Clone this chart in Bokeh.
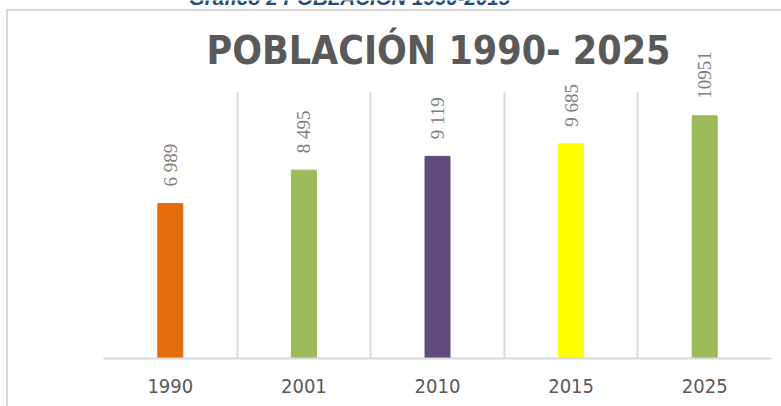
from bokeh.plotting import figure
from bokeh.models import ColumnDataSource, LabelSet, Label, FixedTicker, Range1d
from bokeh.embed import file_html
from bokeh.resources import INLINE

# ---- data ----
years = ["1990", "2001", "2010", "2015", "2025"]
population = [6989, 8495, 9119, 9685, 10951]
value_labels = ["6 989", "8 495", "9 119", "9 685", "10951"]
bar_colors = ["#E46C0A", "#9BBB59", "#604A7B", "#FFFF00", "#9BBB59"]
title_text = "POBLACIÓN 1990- 2025"
caption_text = "Gráfico 2 POBLACIÓN 1990-2015"

# layout (pixels)
W, H = 781, 406
FL, FR, FT, FB = 103, 771, 0, 358   # frame edges
GRID_TOP = 92                       # y pixel where the value 12000 lies
y_max = 12000
n = len(years)
y_end = y_max * (FB - FT) / (FB - GRID_TOP)

x_pos = [i + 0.5 for i in range(n)]
src = ColumnDataSource(dict(x=x_pos, top=population, color=bar_colors,
                            lab=value_labels))

p = figure(width=W, height=H, output_backend="svg", toolbar_location=None,
           x_range=Range1d(0, n), y_range=Range1d(0, y_end),
           min_border_left=FL, min_border_right=W - FR,
           min_border_top=FT, min_border_bottom=H - FB)
# outer chart border (left and top edges), drawn behind a transparent canvas
p.styles = {"background": "linear-gradient(#D9D9D9, #D9D9D9) 6px 9px / 2px 397px no-repeat, "
                          "linear-gradient(#D9D9D9, #D9D9D9) 6px 9px / 775px 2px no-repeat, #FFFFFF"}
p.outline_line_color = None
p.background_fill_color = None
p.border_fill_color = None

p.vbar(x="x", top="top", bottom=0, width=0.187, color="color", source=src)

# axes
p.yaxis.visible = False
p.ygrid.visible = False
xa = p.xaxis[0]
xa.ticker = FixedTicker(ticks=x_pos)
xa.major_label_overrides = {x: y for x, y in zip(x_pos, years)}
xa.major_tick_line_color = None
xa.minor_tick_line_color = None
xa.axis_line_color = "#D9D9D9"
xa.axis_line_width = 2
xa.major_label_text_font = "DejaVu Sans Condensed"
xa.major_label_text_font_size = "20px"
xa.major_label_text_color = "#595959"
xa.major_label_standoff = 14

p.xgrid.ticker = FixedTicker(ticks=list(range(n + 1)))
p.xgrid.cross_bounds = (0, y_max)
p.xgrid.grid_line_color = "#D9D9D9"
p.xgrid.grid_line_width = 2

# value labels
labels = LabelSet(x="x", y="top", text="lab", source=src, angle=90,
                  angle_units="deg", text_align="left", text_baseline="middle",
                  y_offset=17, text_font="Roboto", text_font_size="19px",
                  text_color="#808080")
p.add_layout(labels)

def ydata(px):
    return (FB - px) * y_max / (FB - GRID_TOP)
def xdata(px):
    return (px - FL) * n / (FR - FL)

p.add_layout(Label(x=xdata(438), y=ydata(50), text=title_text,
                   text_align="center", text_baseline="middle",
                   text_font="DejaVu Sans Condensed", text_font_style="bold",
                   text_font_size="39px", text_color="#595959"))
p.add_layout(Label(x=xdata(349), y=ydata(-3), text=caption_text,
                   text_align="center", text_baseline="middle",
                   text_font="Liberation Sans", text_font_style="bold italic",
                   text_font_size="20.5px", text_color="#1F4E79"))

open("out.html", "w").write(file_html(p, INLINE))
